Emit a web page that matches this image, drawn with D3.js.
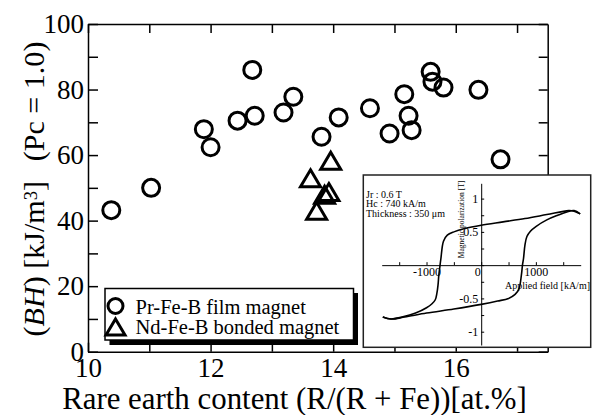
<!DOCTYPE html>
<html>
<head>
	<meta charset="utf-8">
	<script src="https://cdn.jsdelivr.net/npm/d3@7"></script>
	<style>
		body { margin: 0; background: #fff; }
		svg { display: block; }
		svg text { font-family: "Liberation Serif", "Times New Roman", serif; fill: #000; }
		.axis path, .axis line { stroke: #000; stroke-width: 1.5; }
		.axis text { font-size: 27px; }
		.iaxis path, .iaxis line { stroke: #000; stroke-width: 1; }
		.iaxis text { font-size: 12px; }
	</style>
</head>
<body>
	<svg width="592" height="415"></svg>
	<script>
		// Pr-Fe-B film magnets
		var filmContent = [10.38, 11.03, 11.89, 12.00, 12.44, 12.68, 12.72, 13.19, 13.35, 13.81, 14.09,
			14.60, 14.92, 15.16, 15.23, 15.28, 15.59, 15.62, 15.80, 16.37, 16.73];
		var filmBH = [43.2, 50.0, 67.9, 62.4, 70.5, 86.0, 72.0, 73.0, 77.8, 65.6, 71.5,
			74.3, 66.6, 78.6, 72.0, 67.6, 85.4, 82.4, 80.6, 79.9, 58.7];
		// Nd-Fe-B bonded magnets
		var bondedContent = [13.96, 13.63, 13.93, 13.86, 13.73];
		var bondedBH = [58.3, 52.9, 48.7, 47.9, 43.0];

		var xTicks = [10, 11, 12, 13, 14, 15, 16, 17];
		var xTickLabels = [10, 12, 14, 16];
		var yTicks = [0, 10, 20, 30, 40, 50, 60, 70, 80, 90, 100];
		var yTickLabels = [0, 20, 40, 60, 80, 100];

		var legendLabels = ["Pr-Fe-B film magnet", "Nd-Fe-B bonded magnet"];

		// inset hysteresis loop, applied field [kA/m] vs polarization [T]
		var loopUpperH = [1810, 1700, 1600, 1200, 800, 400, 0, -300, -500, -620, -690, -737, -760, -775, -790, -810,
			-840, -900, -1000, -1200, -1450, -1650, -1800];
		var loopUpperJ = [0.77, 0.81, 0.82, 0.76, 0.70, 0.65, 0.60, 0.55, 0.50, 0.45, 0.36, 0.10, -0.05, -0.15, -0.30, -0.42,
			-0.52, -0.58, -0.64, -0.72, -0.78, -0.81, -0.78];
		var loopLowerH = [-1800, -1650, -1400, -1000, -500, 0, 300, 500, 620, 690, 735, 755, 774, 800, 836,
			900, 1000, 1200, 1400, 1567, 1700, 1810];
		var loopLowerJ = [-0.78, -0.81, -0.78, -0.72, -0.66, -0.59, -0.54, -0.50, -0.44, -0.36, -0.15, 0.0, 0.10, 0.30, 0.43,
			0.51, 0.58, 0.68, 0.75, 0.80, 0.82, 0.77];
		var loopXTicks = [-1500, -1000, -500, 0, 500, 1000, 1500];
		var loopXLabels = [-1000, 0, 1000];
		var loopYTicks = [-1, -0.75, -0.5, -0.25, 0, 0.25, 0.5, 0.75, 1];
		var loopYLabels = [-1, -0.5, 0.5, 1];
		var loopNotes = ["Jr : 0.6 T", "Hc : 740 kA/m", "Thickness : 350 \u03bcm"];

		var svg = d3.select("svg");

		var x = d3.scaleLinear().domain([10, 17.5]).range([88, 547.7]);
		var y = d3.scaleLinear().domain([0, 100]).range([351.7, 24]);

		// scale a text's font so its run spans the given length
		function fitText(sel, len) {
			var w = sel.node().getBBox().width;
			var fs = parseFloat(sel.style("font-size"));
			sel.style("font-size", (fs * len / w) + "px");
		}

		// frame axes, ticks pointing inward
		svg.append("g").attr("class", "axis")
			.attr("transform", "translate(0," + y(0) + ")")
			.call(d3.axisBottom(x).tickValues(xTicks).tickSize(-9).tickSizeOuter(0)
				.tickFormat(function(d) { return xTickLabels.indexOf(d) >= 0 ? d : ""; }))
			.selectAll("text").attr("y", 25).attr("dy", 0);

		svg.append("g").attr("class", "axis")
			.attr("transform", "translate(0," + y(100) + ")")
			.call(d3.axisTop(x).tickValues(xTicks).tickSize(-9).tickSizeOuter(0).tickFormat(""));

		svg.append("g").attr("class", "axis")
			.attr("transform", "translate(" + x(10) + ",0)")
			.call(d3.axisLeft(y).tickValues(yTicks).tickSize(-10).tickSizeOuter(0).tickPadding(4)
				.tickFormat(function(d) { return yTickLabels.indexOf(d) >= 0 ? d : ""; }));

		svg.append("g").attr("class", "axis")
			.attr("transform", "translate(" + x(17.5) + ",0)")
			.call(d3.axisRight(y).tickValues(yTicks).tickSize(-9).tickSizeOuter(0).tickFormat(""));

		// axis titles
		var xt = svg.append("text")
			.attr("x", 294.5).attr("y", 409)
			.attr("text-anchor", "middle")
			.style("font-size", "28px")
			.text("Rare earth content (R/(R + Fe))[at.%]");
		fitText(xt, 465);

		var yt = svg.append("text")
			.attr("transform", "translate(44,189) rotate(-90)")
			.attr("text-anchor", "middle")
			.style("font-size", "28px");
		yt.append("tspan").text("(");
		yt.append("tspan").style("font-style", "italic").text("BH");
		yt.append("tspan").text(") [kJ/m");
		yt.append("tspan").attr("dy", "-0.4em").style("font-size", "0.62em").text("3");
		yt.append("tspan").attr("dy", "0.25em").text("]");
		yt.append("tspan").attr("dx", "0.65em").text("(Pc = 1.0)");
		fitText(yt, 295);

		function triangle(s) {
			return "M0," + (-s * 0.85) + "L" + s + "," + (s * 0.85) + "L" + (-s) + "," + (s * 0.85) + "Z";
		}

		// markers
		svg.append("g").selectAll("circle")
			.data(d3.range(filmContent.length))
			.enter().append("circle")
			.attr("cx", function(i) { return x(filmContent[i]); })
			.attr("cy", function(i) { return y(filmBH[i]); })
			.attr("r", 8.5)
			.attr("fill", "none").attr("stroke", "#000").attr("stroke-width", 3);

		svg.append("g").selectAll("path")
			.data(d3.range(bondedContent.length))
			.enter().append("path")
			.attr("transform", function(i) { return "translate(" + x(bondedContent[i]) + "," + y(bondedBH[i]) + ")"; })
			.attr("d", triangle(10))
			.attr("fill", "none").attr("stroke", "#000").attr("stroke-width", 3);

		// legend with drop shadow
		var lg = svg.append("g");
		lg.append("rect").attr("x", 109.5).attr("y", 293).attr("width", 248.5).attr("height", 52).attr("fill", "#000");
		lg.append("rect").attr("x", 105).attr("y", 288.5).attr("width", 248.5).attr("height", 51.5)
			.attr("fill", "#fff").attr("stroke", "#000").attr("stroke-width", 1.5);
		lg.append("circle").attr("cx", 115.5).attr("cy", 306).attr("r", 7.5)
			.attr("fill", "none").attr("stroke", "#000").attr("stroke-width", 3);
		lg.append("path").attr("transform", "translate(115.5,327)").attr("d", triangle(9.5))
			.attr("fill", "none").attr("stroke", "#000").attr("stroke-width", 3);
		lg.selectAll("text.lab").data(legendLabels).enter().append("text")
			.attr("x", 135.5)
			.attr("y", function(d, i) { return 313.5 + i * 20; })
			.style("font-size", "20.5px")
			.text(function(d) { return d; });

		// inset: hysteresis loop
		var ins = svg.append("g");
		ins.append("rect").attr("x", 363.3).attr("y", 175).attr("width", 227.4).attr("height", 172.3)
			.attr("fill", "#fff").attr("stroke", "#222").attr("stroke-width", 1.5);

		var xi = d3.scaleLinear().domain([-1820, 1820]).range([381.7, 580.7]);
		var yi = d3.scaleLinear().domain([-1.2, 1.23]).range([345, 183.3]);

		var ixAxis = ins.append("g").attr("class", "iaxis")
			.attr("transform", "translate(0," + yi(0) + ")")
			.call(d3.axisBottom(xi).tickValues(loopXTicks).tickSize(-3).tickSizeOuter(0)
				.tickFormat(function(d) { return loopXLabels.indexOf(d) >= 0 ? d : ""; }));
		ixAxis.selectAll("text").attr("y", 11).attr("dy", 0)
			.attr("dx", function(d) { return d === 0 ? -4 : 0; });

		ins.append("g").attr("class", "iaxis")
			.attr("transform", "translate(" + xi(0) + ",0)")
			.call(d3.axisLeft(yi).tickValues(loopYTicks).tickSize(-3).tickSizeOuter(0).tickPadding(3)
				.tickFormat(function(d) { return loopYLabels.indexOf(d) >= 0 ? d : ""; }));

		ins.append("text")
			.attr("x", 590).attr("y", 288.5)
			.attr("text-anchor", "end")
			.style("font-size", "10px")
			.text("Applied field [kA/m]");

		ins.append("text")
			.attr("transform", "translate(463.5,219.5) rotate(-90)")
			.attr("text-anchor", "middle")
			.style("font-size", "7.5px")
			.text("Magnetic polarization [T]");

		ins.selectAll("text.note").data(loopNotes).enter().append("text")
			.attr("x", 366)
			.attr("y", function(d, i) { return 197.5 + i * 9.7; })
			.style("font-size", "10px")
			.text(function(d) { return d; });

		var line = d3.line()
			.x(function(d) { return xi(d[0]); })
			.y(function(d) { return yi(d[1]); })
			.curve(d3.curveCatmullRom.alpha(0.5));

		var upper = loopUpperH.map(function(h, i) { return [h, loopUpperJ[i]]; });
		var lower = loopLowerH.map(function(h, i) { return [h, loopLowerJ[i]]; });

		ins.selectAll("path.loop").data([upper, lower]).enter().append("path")
			.attr("d", line)
			.attr("fill", "none").attr("stroke", "#000").attr("stroke-width", 1.6);
	</script>
</body>
</html>
